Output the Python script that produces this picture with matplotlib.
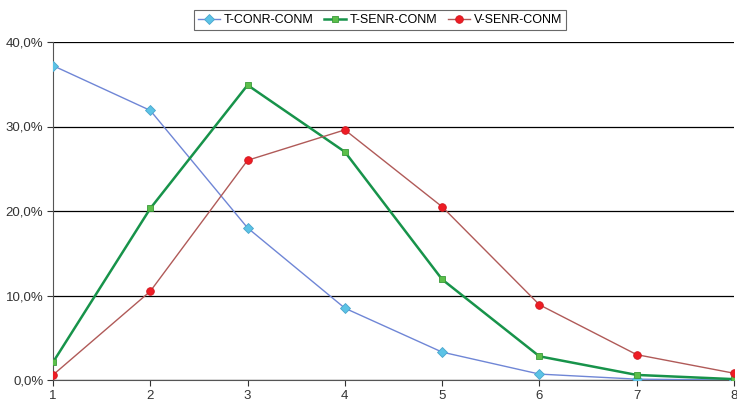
import matplotlib.pyplot as plt
from matplotlib.ticker import FuncFormatter

# datos de las tres series (proporciones)
x = [1, 2, 3, 4, 5, 6, 7, 8]
t_conr = [0.372, 0.319, 0.180, 0.085, 0.033, 0.007, 0.001, 0.000]
t_senr = [0.021, 0.203, 0.349, 0.270, 0.119, 0.028, 0.006, 0.001]
v_senr = [0.006, 0.105, 0.260, 0.296, 0.205, 0.089, 0.030, 0.008]
nombres = ['T-CONR-CONM', 'T-SENR-CONM', 'V-SENR-CONM']

plt.rcParams['font.family'] = ['Liberation Sans', 'DejaVu Sans']

fig = plt.figure(figsize=(7.37, 4.08), dpi=100)
ax = fig.add_axes([53/737, 28/408, 681/737, 338/408])

ax.plot(x, t_conr, color='#6f86d6', lw=1.0, marker='D', ms=5,
        mfc='#5cc3e6', mec='#4aa6cc', mew=0.6, label=nombres[0], zorder=3)
ax.plot(x, t_senr, color='#17934a', lw=1.8, marker='s', ms=5,
        mfc='#5cbf4a', mec='#3a9a3a', mew=0.6, label=nombres[1], zorder=4)
ax.plot(x, v_senr, color='#b05a58', lw=1.0, marker='o', ms=5.5,
        mfc='#ee1c24', mec='#d01820', mew=0.6, label=nombres[2], zorder=5)

ax.set_xlim(1, 8)
ax.set_ylim(0, 0.4)
ax.set_xticks(x)
ax.set_yticks([0, 0.1, 0.2, 0.3, 0.4])
ax.yaxis.set_major_formatter(FuncFormatter(lambda v, p: f'{v*100:.1f}%'.replace('.', ',')))
ax.grid(axis='y', color='black', lw=0.9)
ax.set_axisbelow(True)

for s in ['top', 'right']:
    ax.spines[s].set_visible(False)
for s in ['left', 'bottom']:
    ax.spines[s].set_color('#555555')
ax.tick_params(colors='#333333', labelsize=9.5, length=4, direction='out')
ax.tick_params(axis='y', pad=3)

leg = fig.legend(loc='upper center', bbox_to_anchor=(380/737, 1 - 4/408), ncol=3,
                 fontsize=9, frameon=True, fancybox=False, edgecolor='#444444',
                 handlelength=1.8, columnspacing=0.8, borderpad=0.3, handletextpad=0.3)
leg.get_frame().set_linewidth(0.8)

fig.savefig('out.png', dpi=100)
